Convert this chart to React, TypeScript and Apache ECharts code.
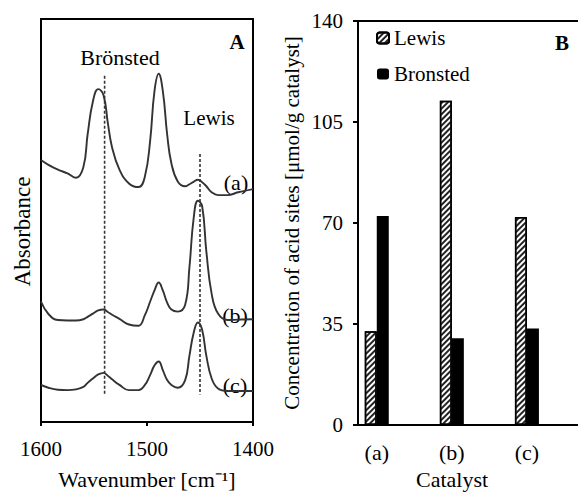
import React, { useEffect, useRef } from "react";
import * as echarts from "echarts";

// ---------- Panel A: IR spectra (pyridine adsorption) ----------
const WAVENUMBERS = [
  1600, 1593, 1584, 1575, 1567, 1560, 1556, 1551, 1546, 1541, 1537, 1533,
  1526, 1517, 1508, 1502, 1497, 1493, 1489, 1485, 1481, 1477, 1471, 1464,
  1460, 1456, 1452, 1448, 1444, 1439, 1433, 1424, 1414, 1400,
];
const ABS_A = [
  65.0, 63.8, 62.6, 61.7, 60.6, 63.3, 71.4, 79.6, 82.6, 81.1, 74.3, 68.2,
  62.6, 59.2, 58.3, 60.9, 69.9, 82.0, 86.4, 82.0, 71.4, 64.2, 59.7, 58.5,
  59.0, 59.6, 60.1, 59.5, 58.5, 57.0, 56.3, 56.3, 57.0, 57.8,
];
const ABS_B = [
  29.9, 26.8, 25.3, 25.2, 25.2, 25.5, 26.1, 26.9, 27.7, 27.9, 27.3, 26.6,
  25.6, 24.2, 23.9, 26.5, 29.9, 32.6, 34.6, 32.6, 29.6, 27.9, 27.4, 29.1,
  38.3, 50.5, 54.9, 53.6, 42.3, 31.8, 26.9, 25.3, 25.4, 25.5,
];
const ABS_C = [
  9.2, 8.5, 8.0, 7.9, 8.1, 8.7, 9.7, 10.8, 11.8, 12.2, 11.5, 10.6,
  9.2, 7.9, 7.9, 9.2, 11.7, 14.0, 15.0, 12.8, 10.4, 9.2, 8.5, 10.4,
  16.4, 22.1, 24.7, 22.9, 16.4, 10.8, 8.3, 7.7, 7.7, 7.7,
];
const SPECTRA_NAMES = ["(a)", "(b)", "(c)"];
const BAND_NAMES = ["Brönsted", "Lewis"];
const BAND_POS = [1540, 1450];
const BAND_TOP = [85.9, 66.5];
const BAND_BOTTOM = [6.8, 6.8];
const X_TICKS_A = [1400, 1600, 100]; // min, max, interval

// ---------- Panel B: acid site concentration ----------
const CATALYSTS = ["(a)", "(b)", "(c)"];
const LEWIS = [32.5, 112.4, 72.1];
const BRONSTED = [72.4, 30.1, 33.5];
const Y_TICKS_B = [0, 140, 35]; // min, max, interval

const FONT = '"Liberation Serif", "Times New Roman", serif';

export default function App() {
  const ref = useRef<HTMLDivElement>(null);

  useEffect(() => {
    if (!ref.current) return;
    const chart = echarts.init(ref.current, undefined, { renderer: "svg" });

    const txt = (size: number, bold = false) => ({
      fontFamily: FONT,
      fontSize: size,
      fontWeight: bold ? "bold" : "normal",
      color: "#000",
    });

    const spectra = [ABS_A, ABS_B, ABS_C].map((arr, k) => ({
      type: "line",
      name: SPECTRA_NAMES[k],
      xAxisIndex: 0,
      yAxisIndex: 0,
      data: WAVENUMBERS.map((w, i) => [w, arr[i]]),
      smooth: 0.45,
      showSymbol: false,
      symbol: "none",
      lineStyle: { color: "#333", width: 1.9 },
      z: 3,
    }));

    const bandLines = BAND_POS.map((p, k) => ({
      type: "line",
      name: BAND_NAMES[k] + " band",
      xAxisIndex: 0,
      yAxisIndex: 0,
      data: [
        [p, BAND_TOP[k]],
        [p, BAND_BOTTOM[k]],
      ],
      showSymbol: false,
      symbol: "none",
      lineStyle: { color: "#333", width: 1.6, type: [3, 2] },
      z: 2,
    }));

    const option: any = {
      animation: false,
      backgroundColor: "#fff",
      grid: [
        {
          left: 41,
          top: 19,
          width: 212,
          height: 412,
          show: true,
          borderColor: "#000",
          borderWidth: 2,
        },
        {
          left: 358,
          top: 21,
          width: 244,
          height: 412,
          show: true,
          borderColor: "#000",
          borderWidth: 2,
        },
      ],
      xAxis: [
        {
          gridIndex: 0,
          type: "value",
          inverse: true,
          min: X_TICKS_A[0],
          max: X_TICKS_A[1],
          interval: X_TICKS_A[2],
          axisLine: { show: true, onZero: false, lineStyle: { color: "#000", width: 2 } },
          axisTick: { show: true, inside: false, length: 4, lineStyle: { color: "#000", width: 2 } },
          axisLabel: { ...txt(21), margin: 16, formatter: (v: number) => String(v) },
          splitLine: { show: false },
          name: "Wavenumber [cm⁻¹]",
          nameLocation: "middle",
          nameGap: 46,
          nameTextStyle: txt(22),
        },
        {
          gridIndex: 1,
          type: "value",
          min: -0.25,
          max: 3.0,
          axisLine: { show: true, onZero: false, lineStyle: { color: "#000", width: 2 } },
          axisTick: { show: false },
          axisLabel: {
            ...txt(22),
            margin: 16,
            customValues: [0, 1, 2],
            formatter: (v: number) => CATALYSTS[Math.round(v)] ?? "",
          },
          splitLine: { show: false },
          name: "Catalyst",
          nameLocation: "middle",
          nameGap: 41,
          nameTextStyle: { ...txt(22), padding: [0, 56, 0, 0] },
        },
      ],
      yAxis: [
        {
          gridIndex: 0,
          type: "value",
          min: 0,
          max: 100,
          axisLine: { show: true, onZero: false, lineStyle: { color: "#000", width: 2 } },
          axisTick: { show: false },
          axisLabel: { show: false },
          splitLine: { show: false },
          name: "Absorbance",
          nameLocation: "middle",
          nameGap: 7,
          nameTextStyle: { ...txt(23), padding: [0, 22, 0, 0] },
        },
        {
          gridIndex: 1,
          type: "value",
          min: Y_TICKS_B[0],
          max: Y_TICKS_B[1],
          interval: Y_TICKS_B[2],
          axisLine: { show: true, onZero: false, lineStyle: { color: "#000", width: 2 } },
          axisTick: { show: true, inside: false, length: 5, lineStyle: { color: "#000", width: 2 } },
          axisLabel: { ...txt(21), margin: 15 },
          splitLine: { show: false },
          name: "Concentration of acid sites [μmol/g catalyst]",
          nameLocation: "middle",
          nameGap: 56,
          nameTextStyle: txt(21),
        },
      ],
      legend: {
        orient: "vertical",
        left: 371,
        top: 22,
        itemWidth: 12,
        itemHeight: 11,
        itemGap: 14,
        icon: "roundRect",
        data: ["Lewis", "Bronsted"],
        textStyle: { ...txt(21), lineHeight: 22 },
      },
      series: [
        ...spectra,
        ...bandLines,
        {
          type: "bar",
          name: "Lewis",
          xAxisIndex: 1,
          yAxisIndex: 1,
          data: LEWIS.map((v, i) => [i, v]),
          barWidth: 12,
          barGap: "0%",
          itemStyle: {
            color: "#fff",
            borderColor: "#000",
            borderWidth: 1.5,
            decal: {
              symbol: "rect",
              symbolSize: 1,
              dashArrayX: [1, 0],
              dashArrayY: [2, 2],
              rotation: -Math.PI / 4,
              color: "#222",
            },
          },
        },
        {
          type: "bar",
          name: "Bronsted",
          xAxisIndex: 1,
          yAxisIndex: 1,
          data: BRONSTED.map((v, i) => [i, v]),
          barWidth: 12,
          barGap: "0%",
          itemStyle: { color: "#000" },
        },
      ],
      graphic: [
        { type: "text", x: 120, y: 57, style: { text: BAND_NAMES[0], font: `22px ${FONT}`, fill: "#000", align: "center", verticalAlign: "middle" } },
        { type: "text", x: 209, y: 118, style: { text: BAND_NAMES[1], font: `21px ${FONT}`, fill: "#000", align: "center", verticalAlign: "middle" } },
        { type: "text", x: 237, y: 42, style: { text: "A", font: `bold 21px ${FONT}`, fill: "#000", align: "center", verticalAlign: "middle" } },
        { type: "text", x: 236, y: 182, style: { text: SPECTRA_NAMES[0], font: `22px ${FONT}`, fill: "#000", align: "center", verticalAlign: "middle" } },
        { type: "text", x: 235, y: 315, style: { text: SPECTRA_NAMES[1], font: `22px ${FONT}`, fill: "#000", align: "center", verticalAlign: "middle" } },
        { type: "text", x: 235, y: 385, style: { text: SPECTRA_NAMES[2], font: `22px ${FONT}`, fill: "#000", align: "center", verticalAlign: "middle" } },
        { type: "text", x: 562, y: 43, style: { text: "B", font: `bold 21px ${FONT}`, fill: "#000", align: "center", verticalAlign: "middle" } },
      ],
    };

    chart.setOption(option);
    return () => chart.dispose();
  }, []);

  return (
    <div
      style={{
        position: "absolute",
        left: 0,
        top: 0,
        width: 578,
        height: 495,
        overflow: "hidden",
      }}
    >
      <div ref={ref} style={{ width: 612, height: 495 }} />
    </div>
  );
}
